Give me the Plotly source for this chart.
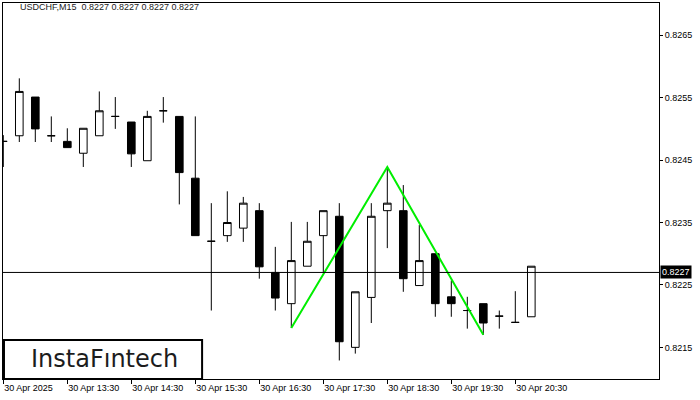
import pandas as pd
import plotly.graph_objects as go

# ---- data ----
times = pd.date_range("2025-04-30 12:30", periods=34, freq="15min")
opens = [0.82480, 0.82489, 0.82551, 0.82489, 0.82480, 0.82461, 0.82489, 0.82520, 0.82511, 0.82449,
         0.82529, 0.82520, 0.82421, 0.82320, 0.82329, 0.82341, 0.82369, 0.82270, 0.82220, 0.82280,
         0.82329, 0.82360, 0.82150, 0.82230, 0.82369, 0.82369, 0.82249, 0.82300, 0.82231, 0.82209,
         0.82220, 0.82200, 0.82190, 0.82199]
highs = [0.82490, 0.82581, 0.82551, 0.82520, 0.82501, 0.82501, 0.82560, 0.82551, 0.82511, 0.82529,
         0.82551, 0.82520, 0.82520, 0.82381, 0.82400, 0.82391, 0.82381, 0.82311, 0.82351, 0.82351,
         0.82369, 0.82381, 0.82239, 0.82381, 0.82439, 0.82410, 0.82346, 0.82300, 0.82257, 0.82231,
         0.82220, 0.82209, 0.82240, 0.82280]
lows = [0.82439, 0.82479, 0.82479, 0.82479, 0.82470, 0.82439, 0.82489, 0.82500, 0.82439, 0.82449,
        0.82510, 0.82379, 0.82329, 0.82209, 0.82319, 0.82319, 0.82260, 0.82209, 0.82181, 0.82280,
        0.82270, 0.82129, 0.82140, 0.82189, 0.82309, 0.82239, 0.82249, 0.82199, 0.82199, 0.82180,
        0.82170, 0.82180, 0.82190, 0.82199]
closes = [0.82480, 0.82560, 0.82500, 0.82489, 0.82470, 0.82501, 0.82529, 0.82520, 0.82460, 0.82520,
          0.82529, 0.82430, 0.82329, 0.82320, 0.82350, 0.82381, 0.82279, 0.82229, 0.82289, 0.82320,
          0.82369, 0.82159, 0.82239, 0.82360, 0.82381, 0.82260, 0.82289, 0.82220, 0.82220, 0.82209,
          0.82189, 0.82200, 0.82190, 0.82280]

current_price = 0.8227
title_text = "USDCHF,M15  0.8227 0.8227 0.8227 0.8227"

# pattern points: low, high, low
pattern_idx = [18, 24, 30]
pattern_kind = ["low", "high", "low"]

tick_times = pd.date_range("2025-04-30 12:30", periods=9, freq="60min")
tick_labels = ["30 Apr 2025", "30 Apr 13:30", "30 Apr 14:30", "30 Apr 15:30", "30 Apr 16:30",
               "30 Apr 17:30", "30 Apr 18:30", "30 Apr 19:30", "30 Apr 20:30"]
y_ticks = [0.8215, 0.8225, 0.8235, 0.8245, 0.8255, 0.8265]

# ---- figure ----
FONT = "Liberation Sans"
fig = go.Figure()

fig.add_trace(go.Candlestick(
    x=times, open=opens, high=highs, low=lows, close=closes,
    increasing=dict(line=dict(color="black", width=1), fillcolor="white"),
    decreasing=dict(line=dict(color="black", width=1), fillcolor="black"),
    whiskerwidth=0, showlegend=False, hoverinfo="skip",
))

px_ = [times[i] for i in pattern_idx]
py_ = [lows[i] if k == "low" else highs[i] for i, k in zip(pattern_idx, pattern_kind)]
fig.add_trace(go.Scatter(x=px_, y=py_, mode="lines",
                         line=dict(color="#00ee00", width=2), showlegend=False, hoverinfo="skip"))

fig.add_shape(type="line", xref="paper", x0=0, x1=1, yref="y", y0=current_price, y1=current_price,
              line=dict(color="black", width=1), layer="above")

fig.add_annotation(xref="paper", x=1.002, yref="y", y=current_price, xanchor="left", yanchor="middle",
                   text="0.8227", showarrow=False, bgcolor="black",
                   font=dict(family=FONT, size=9, color="white"), borderpad=1)

fig.add_annotation(xref="paper", x=0.023, yref="paper", y=0.99, xanchor="left", yanchor="middle",
                   text=title_text, showarrow=False, font=dict(family=FONT, size=9, color="#1a1a1a"))

# logo box
fig.add_shape(type="rect", xref="paper", yref="paper", x0=0.0015, x1=0.3035, y0=0.0, y1=0.104,
              line=dict(color="black", width=2), fillcolor="white", layer="above")
fig.add_annotation(xref="paper", yref="paper", x=0.154, y=0.052, xanchor="center", yanchor="middle",
                   text="InstaF\u0131ntech", showarrow=False,
                   font=dict(family="DejaVu Sans", size=24, color="#1c1c1c"))

fig.update_layout(
    width=700, height=400,
    margin=dict(l=3, r=41, t=3, b=21),
    paper_bgcolor="white", plot_bgcolor="white",
    boxgap=0.32,
    xaxis=dict(
        range=[pd.Timestamp("2025-04-30 12:29:43"), pd.Timestamp("2025-04-30 22:44:43")],
        rangeslider=dict(visible=False),
        showgrid=False, zeroline=False,
        showline=True, linecolor="black", linewidth=1, mirror=True,
        tickmode="array", tickvals=tick_times, ticktext=tick_labels,
        ticks="outside", ticklen=4, tickcolor="black",
        ticklabelposition="outside right",
        tickfont=dict(family=FONT, size=9, color="black"),
    ),
    yaxis=dict(
        side="right",
        range=[0.820993, 0.827017],
        showgrid=False, zeroline=False,
        showline=True, linecolor="black", linewidth=1, mirror=True,
        tickmode="array", tickvals=y_ticks, ticktext=[f"{v:.4f}" for v in y_ticks],
        ticks="outside", ticklen=3, tickcolor="black",
        tickfont=dict(family=FONT, size=9, color="black"),
    ),
)

fig.write_html("out.html", config={"displayModeBar": False},
               post_script="document.body.style.margin='0';document.body.style.overflow='hidden';")
